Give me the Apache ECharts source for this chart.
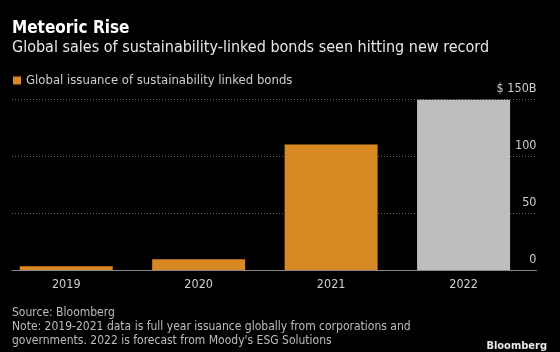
<!DOCTYPE html>
<html>
<head>
<meta charset="utf-8">
<script src="https://cdn.jsdelivr.net/npm/echarts@6/dist/echarts.min.js"></script>
<style>
  html, body { margin: 0; padding: 0; background: #000; }
  #chart { width: 560px; height: 352px; }
</style>
</head>
<body>
<div id="chart"></div>
<script>
  var years = ['2019', '2020', '2021', '2022'];
  var issuance = [3.3, 9.4, 110.5, 150];
  var yTicks = [0, 50, 100, 150];

  var FONT = '"DejaVu Sans Condensed", "Liberation Sans Narrow", sans-serif';
  var orange = '#d98923';
  var grey = '#bebebe';

  var chart = echarts.init(document.getElementById('chart'));

  var option = {
    backgroundColor: '#000',
    animation: false,
    textStyle: { fontFamily: FONT },
    legend: {
      left: 8, top: 69,
      itemWidth: 8, itemHeight: 8, itemGap: 4,
      icon: 'rect',
      textStyle: { color: '#cfcfcf', fontSize: 13, fontFamily: FONT },
      data: ['Global issuance of sustainability linked bonds']
    },
    graphic: [
      { type: 'text', left: 12, top: 20, style: { text: 'Meteoric Rise', fill: '#fff', font: 'bold 17px ' + FONT } },
      { type: 'text', left: 12, top: 40, style: { text: 'Global sales of sustainability-linked bonds seen hitting new record', fill: '#e8e8e8', font: '16px ' + FONT } },
      { type: 'text', left: 12, top: 307, style: { text: 'Source: Bloomberg', fill: '#bdbdbd', font: '12px ' + FONT } },
      { type: 'text', left: 12, top: 321, style: { text: 'Note: 2019-2021 data is full year issuance globally from corporations and', fill: '#bdbdbd', font: '12px ' + FONT } },
      { type: 'text', left: 12, top: 335, style: { text: "governments. 2022 is forecast from Moody's ESG Solutions", fill: '#bdbdbd', font: '12px ' + FONT } },
      { type: 'text', right: 13, top: 341, style: { text: 'Bloomberg', fill: '#e8e8e8', font: 'bold 11px ' + FONT } }
    ],
    grid: [
      { left: 12, right: 23.5, top: 99.7, bottom: 82 },
      { left: -8.3, right: 30.2, top: 99.7, bottom: 82 }
    ],
    xAxis: [
      {
        type: 'category', gridIndex: 0, data: years,
        axisLine: { lineStyle: { color: '#8a8a8a', width: 1 } },
        axisTick: { show: false }, axisLabel: { show: false }
      },
      {
        type: 'category', gridIndex: 1, data: years,
        axisLine: { show: false }, axisTick: { show: false },
        axisLabel: { color: '#cfcfcf', fontSize: 12.5, margin: 8, fontFamily: FONT }
      }
    ],
    yAxis: [
      {
        type: 'value', gridIndex: 0, position: 'right',
        min: 0, max: 150, interval: 50,
        axisLine: { show: false }, axisTick: { show: false },
        splitLine: { lineStyle: { color: '#666', type: [1, 2], width: 1 } },
        axisLabel: {
          inside: true, margin: 0, color: '#cfcfcf', fontSize: 12.5, fontFamily: FONT,
          verticalAlign: 'bottom', padding: [0, 0, 4, 0],
          formatter: function (v) { return v === yTicks[yTicks.length - 1] ? '$ ' + v + 'B' : String(v); }
        }
      },
      {
        type: 'value', gridIndex: 1, min: 0, max: 150, show: false
      }
    ],
    series: [
      {
        name: 'Global issuance of sustainability linked bonds',
        type: 'bar', xAxisIndex: 1, yAxisIndex: 1,
        barWidth: 93,
        itemStyle: { color: orange },
        data: issuance.map(function (v, i) {
          return i === issuance.length - 1 ? { value: v, itemStyle: { color: grey } } : v;
        })
      }
    ]
  };
  chart.setOption(option);
</script>
</body>
</html>
